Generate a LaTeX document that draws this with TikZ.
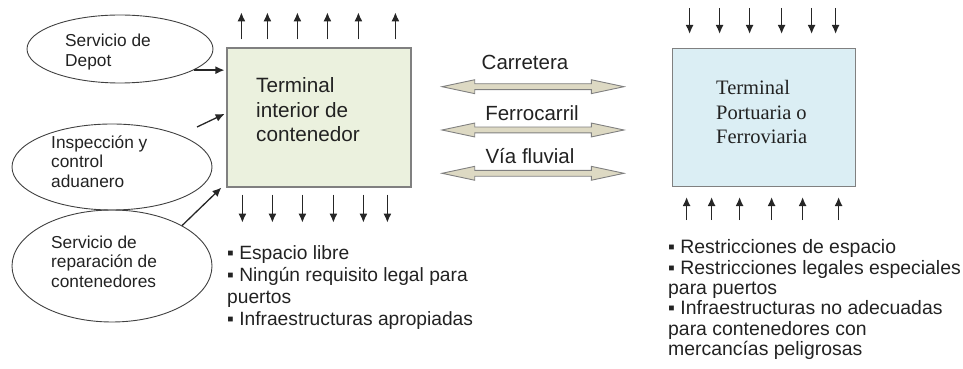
\documentclass[tikz,border=0pt]{standalone}
\usepackage{fontspec}
\setmainfont{Liberation Sans}
\newfontfamily\serifFmt{Liberation Serif}
\usetikzlibrary{positioning,shapes.geometric,shapes.arrows,arrows.meta}
\definecolor{ticcolor}{HTML}{EBF1DE}
\definecolor{tpcolor}{HTML}{DBEEF4}
\definecolor{waycolor}{HTML}{DDD9C3}
\definecolor{txtcolor}{HTML}{222222}

\begin{document}
\begin{tikzpicture}[x=1pt, y=1pt,
			service/.style={ellipse, draw=black!75, line width=0.9pt, inner sep=0},
			terminal/.style={rectangle, draw=gray, line width=1.2pt, minimum width=184pt, minimum height=139pt},
			way/.style={double arrow, draw=gray, fill=waycolor, line width=0.9pt, minimum height=182pt, minimum width=13pt,
				inner sep=2.5pt, double arrow head extend=4pt, double arrow tip angle=24},
			txt/.style={inner sep=0, anchor=base west, align=left, text=txtcolor},
			flow/.style={-{Latex[length=9pt,width=8pt]}, line width=1.3pt, draw=black!85}
		]
		\useasboundingbox (0,0) rectangle (963,369);
		% services
		\node[service, minimum width=186pt, minimum height=68pt] (depot) at (120,320) {};
		\node[service, minimum width=200pt, minimum height=86pt] (aduana) at (112,202) {};
		\node[service, minimum width=200pt, minimum height=112pt] (repar) at (112,103) {};
		\node[txt, font=\fontsize{17.3}{20}\selectfont] (tdepot) at (65,302.3) {Servicio de\\Depot};
		\node[txt, font=\fontsize{17.3}{19.7}\selectfont] (taduana) at (51,181.3) {Inspección y\\control\\aduanero};
		\node[txt, font=\fontsize{17.3}{19.5}\selectfont] (trepar) at (51,81.7) {Servicio de\\reparación de\\contenedores};

		% terminals
		\node[terminal, fill=ticcolor] (tic) at (319,251.5) {};
		\node[terminal, fill=tpcolor, minimum width=183pt, minimum height=138pt] (tp) [right=260pt of tic] {};
		\node[txt, font=\fontsize{20.7}{24.5}\selectfont] (ttic) at (256,227.3) {Terminal\\interior de\\contenedor};
		\node[txt, font=\serifFmt\fontsize{20.5}{24.5}\selectfont] (ttp) at (716,225) {Terminal\\Portuaria o\\Ferroviaria};

		% ways
		\node[way] (car) at (533,282.3) {};
		\node[way] (fer) at (533,239) {};
		\node[way] (via) at (533,195.7) {};
		\node[inner sep=0, text=txtcolor, font=\fontsize{20.5}{24}\selectfont] (lcar) [above=13pt of car, xshift=-8pt] {Carretera};
		\node[inner sep=0, text=txtcolor, font=\fontsize{20.5}{24}\selectfont] (lfer) [above=6pt of fer, xshift=-1pt] {Ferrocarril};
		\node[inner sep=0, text=txtcolor, font=\fontsize{20.5}{24}\selectfont] (lvia) [above=6pt of via, xshift=-3pt] {Vía fluvial};

		% notes
		\node[txt, font=\fontsize{19.2}{21.7}\selectfont] (ntic) at (227,43.9) {▪ Espacio libre\\▪ Ningún requisito legal para\\puertos\\▪ Infraestructuras apropiadas};
		\node[txt, font=\fontsize{19.4}{20.3}\selectfont] (ntp) at (668,13.5) {▪ Restricciones de espacio\\▪ Restricciones legales especiales\\para puertos\\▪ Infraestructuras no adecuadas\\para contenedores con\\mercancías peligrosas};

		% services into terminal
		\coordinate (s2) at (197,242);
		\draw[flow, shorten >=2pt] (depot.-16) -- (depot.-16 -| tic.west);
		\draw[flow, shorten >=2pt] (s2) -- ([yshift=4.5pt]tic.west);
		\draw[flow] (repar.30) -- ([xshift=-5pt]tic.south west);

		% flows around terminals
		\foreach \dx in {15,41,71,101,132,169}
			\draw[flow] ([shift={(\dx,8)}]tic.north west) -- ++(0,27);
		\foreach \dx in {16,46,76,107,137,161}
			\draw[flow] ([shift={(\dx,-7)}]tic.south west) -- ++(0,-28);
		\foreach \dx in {18,48,78,110,140,164}
			\draw[flow] ([shift={(\dx,40)}]tp.north west) -- ++(0,-26);
		\foreach \dx in {15,40,68,100,131,167}
			\draw[flow] ([shift={(\dx,-33)}]tp.south west) -- ++(0,23);
\end{tikzpicture}
\end{document}
